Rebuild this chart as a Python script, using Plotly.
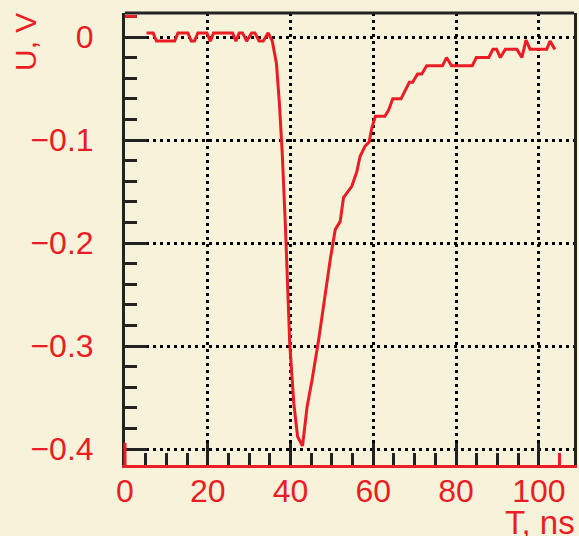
import plotly.graph_objects as go

RED = "#EC1C24"
BG = "#F7F3DA"
FONT = "Liberation Sans"

# Time, ns
t_ns = [5.2, 6.0, 6.8, 7.6, 8.4, 9.2, 10.0, 10.8, 11.6, 12.0, 12.8, 13.6, 14.4, 15.2,
        16.0, 16.8, 17.6, 18.4, 19.2, 19.8, 20.6, 21.4, 22.2, 23.0, 23.8, 24.6, 25.4, 26.0,
        26.8, 27.6, 28.4, 29.4, 30.6, 31.4, 32.4, 33.4, 34.6, 35.6, 36.6, 37.3, 38.0,
        38.8, 39.8, 40.8, 41.7, 42.9, 44.0, 45.2, 46.8, 48.4, 49.6, 50.8, 52.0, 52.8,
        54.8, 56.0, 56.8, 58.0, 59.0, 59.6, 60.5, 62.8, 63.7, 64.7, 66.7, 68.7, 69.5,
        70.7, 71.7, 72.9, 76.7, 77.7, 78.9, 83.9, 84.9, 87.9, 88.9, 89.8, 90.7, 91.9,
        94.7, 95.9, 96.9, 97.9, 101.9, 102.7, 103.9]
# Voltage, V
u_volt = [0.004, 0.004, 0.004, -0.004, -0.004, -0.004, -0.004, -0.004, -0.004, -0.004,
          0.004, 0.004, 0.004, 0.004, -0.004, -0.004, 0.004, 0.004, 0.004, 0.004, -0.004,
          0.004, 0.004, 0.004, 0.004, 0.004, 0.004, 0.004, -0.004, 0.004, 0.004, -0.004,
          0.004, 0.004, -0.004, -0.004, 0.004, -0.004, -0.026, -0.064, -0.113,
          -0.187, -0.297, -0.356, -0.388, -0.397, -0.359, -0.333, -0.294, -0.249, -0.216,
          -0.187, -0.179, -0.156, -0.145, -0.131, -0.116, -0.106, -0.102, -0.089, -0.077,
          -0.077, -0.071, -0.060, -0.060, -0.044, -0.044, -0.036, -0.036, -0.028, -0.028,
          -0.020, -0.028, -0.028, -0.020, -0.020, -0.012, -0.012, -0.020, -0.012,
          -0.012, -0.020, -0.003, -0.012, -0.012, -0.004, -0.012]

x_major = [0, 20, 40, 60, 80, 100]
y_major = [0, -0.1, -0.2, -0.3, -0.4]
x_range = [0, 108.5]
y_range = [-0.4155, 0.0233]

fig = go.Figure()
fig.add_trace(go.Scatter(x=t_ns, y=u_volt, mode="lines",
                         line=dict(color=RED, width=3), showlegend=False,
                         hoverinfo="skip"))

grid = dict(showgrid=True, gridcolor="black", gridwidth=3, griddash="3px,4px")
fig.update_xaxes(range=x_range, tickmode="array", tickvals=x_major, ticks="inside",
                 ticklen=22, tickwidth=3, tickcolor="#222",
                 minor=dict(ticks="inside", ticklen=12, tickwidth=3, tickcolor="#222",
                            dtick=5, tick0=0, showgrid=False),
                 showline=True, linecolor=RED, linewidth=3, zeroline=False,
                 tickfont=dict(family=FONT, size=32, color=RED), ticklabelstandoff=-4,
                 **grid)
fig.update_yaxes(range=y_range, tickmode="array", tickvals=y_major, ticks="inside",
                 ticklen=22, tickwidth=3, tickcolor="#222",
                 minor=dict(ticks="inside", ticklen=12, tickwidth=3, tickcolor="#222",
                            dtick=0.02, tick0=0, showgrid=False),
                 showline=True, linecolor="#222", linewidth=3, mirror=True, zeroline=False,
                 tickfont=dict(family=FONT, size=32, color=RED), ticklabelstandoff=22,
                 **grid)

shapes = [
    dict(type="line", xref="paper", yref="paper", x0=0, x1=1, y0=1, y1=1,
         line=dict(color="#222", width=3)),
    # red extra ticks / axis stub
    dict(type="line", xref="x", yref="paper", x0=105, x1=105, y0=0, y1=12 / 452,
         line=dict(color=RED, width=3)),
    dict(type="line", xref="paper", yref="y", x0=0, x1=12 / 452, y0=0.02, y1=0.02,
         line=dict(color=RED, width=3)),
    dict(type="line", xref="paper", yref="y", x0=0, x1=0, y0=y_range[0], y1=-0.394,
         line=dict(color=RED, width=3)),
]

fig.update_layout(
    width=579, height=536,
    margin=dict(l=125, r=2, t=13, b=71),
    paper_bgcolor=BG, plot_bgcolor=BG,
    shapes=shapes,
    annotations=[
        dict(text="U, V", textangle=-90, xref="paper", yref="paper", x=0, y=1,
             xanchor="center", yanchor="top", xshift=-100, yshift=2, showarrow=False,
             font=dict(family=FONT, size=30, color=RED)),
        dict(text="T, ns", xref="paper", yref="paper", x=1, y=0,
             xanchor="right", yanchor="top", xshift=3, yshift=-37, showarrow=False,
             font=dict(family=FONT, size=33, color=RED)),
    ],
)

fig.write_html("out.html")
